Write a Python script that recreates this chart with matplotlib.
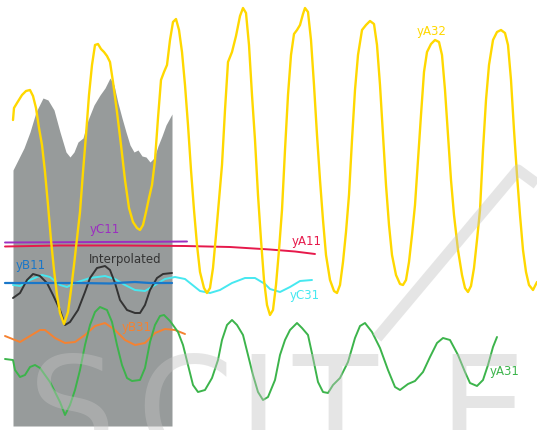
import numpy as np
import matplotlib
matplotlib.use("Agg")
import matplotlib.pyplot as plt

# everything is in picture coordinates (x right, y down), no axes shown

# gray band (interpolated window)
band_x = [13, 18, 24, 30, 36, 43, 48, 54, 60, 66, 70, 74, 78, 83, 88, 94, 100, 105, 110, 114, 118,
          122, 126, 130, 134, 138, 142, 146, 150, 154, 158, 162, 166, 172]
band_top = [170, 160, 148, 132, 112, 98, 100, 110, 132, 152, 157, 152, 142, 138, 120, 105, 95, 88, 78, 85, 103,
            118, 132, 145, 152, 150, 156, 157, 162, 158, 146, 136, 125, 114]
band_bottom = 426

yA32_x = [13, 14, 17, 22, 26, 30, 33, 36, 39, 42, 45, 48, 51, 54, 57, 60, 64, 68, 71, 74, 77, 80, 83, 86, 89,
          92, 95, 98, 101, 104, 107, 110, 113, 117, 121, 125, 129, 133, 137, 140, 143, 146, 149, 152, 155,
          158, 161, 164, 167, 170, 173, 176, 179, 182, 185, 188, 191, 194, 197, 200, 204, 207, 210, 213,
          216, 219, 222, 225, 228, 232, 236, 240, 243, 246, 249, 252, 255, 258, 261, 264, 267, 270, 273,
          276, 279, 282, 285, 288, 291, 294, 297, 300, 303, 305, 308, 311, 314, 317, 320, 323, 326, 330,
          334, 337, 340, 343, 346, 349, 352, 355, 358, 362, 366, 370, 374, 377, 380, 383, 386, 389, 392,
          396, 400, 403, 406, 409, 412, 415, 418, 421, 424, 427, 431, 435, 439, 442, 445, 448, 451, 454,
          458, 462, 465, 468, 471, 474, 477, 480, 483, 486, 489, 493, 497, 501, 505, 508, 511, 514, 517,
          520, 523, 526, 529, 533, 537]
yA32_y = [120, 108, 103, 95, 91, 90, 96, 108, 128, 145, 172, 205, 240, 270, 295, 313, 324, 312, 290, 265,
          238, 212, 172, 135, 95, 65, 45, 44, 49, 52, 56, 62, 82, 112, 145, 180, 208, 222, 228, 230, 225,
          212, 198, 185, 160, 118, 80, 72, 65, 40, 22, 19, 30, 52, 85, 125, 170, 210, 245, 272, 288, 293,
          288, 268, 235, 200, 165, 110, 62, 52, 36, 16, 8, 13, 45, 95, 140, 195, 240, 280, 305, 315, 310,
          285, 250, 210, 150, 95, 55, 34, 30, 25, 14, 8, 12, 40, 85, 135, 180, 220, 255, 280, 291, 293,
          285, 262, 232, 195, 140, 90, 55, 30, 25, 21, 24, 45, 85, 135, 185, 225, 255, 275, 284, 285, 280,
          262, 235, 205, 160, 115, 72, 52, 44, 40, 42, 55, 90, 135, 180, 215, 250, 275, 288, 292, 286, 268,
          240, 210, 150, 100, 65, 40, 32, 30, 33, 45, 80, 130, 175, 215, 250, 272, 285, 290, 282]

yC11_x = [5, 50, 100, 150, 187]
yC11_y = [242.5, 242.3, 242, 241.8, 241.5]

yA11_x = [5, 60, 120, 185, 230, 270, 295, 315]
yA11_y = [246.5, 245.5, 245.5, 246, 247, 249.5, 251.5, 254]

yB11_x = [5, 40, 80, 110, 125, 135, 150, 172]
yB11_y = [283, 283, 283, 283.5, 282.5, 282, 283, 283]

yC31_x = [13, 20, 30, 42, 50, 60, 67, 75, 90, 105, 115, 125, 135, 145, 155, 165, 175, 185, 200, 210,
          220, 232, 245, 255, 265, 270, 280, 290, 300, 312]
yC31_y = [285, 286, 280, 275, 277, 285, 287, 283, 278, 276, 279, 285, 290, 291, 285, 279, 277, 279, 291,
          293, 290, 283, 278, 278, 284, 289, 292, 287, 281, 280]

interp_x = [13, 20, 27, 33, 40, 47, 53, 60, 65, 70, 78, 85, 90, 97, 105, 110, 115, 120, 127, 135, 140,
            145, 150, 157, 163, 172]
interp_y = [298, 293, 280, 274, 276, 283, 295, 310, 325, 322, 310, 292, 278, 268, 266, 270, 283, 300, 310,
            313, 313, 305, 290, 278, 274, 273]

yB31_x = [5, 15, 20, 30, 40, 45, 55, 65, 75, 85, 95, 105, 115, 125, 135, 145, 155, 165, 175, 185]
yB31_y = [336, 340, 342, 336, 330, 330, 338, 343, 342, 335, 326, 323, 330, 340, 345, 343, 333, 329, 330, 334]

yA31_x = [5, 13, 15, 20, 25, 30, 35, 40, 45, 50, 55, 60, 65, 70, 75, 80, 85, 90, 95, 100, 107, 112, 117,
          122, 127, 132, 140, 145, 150, 155, 160, 164, 170, 178, 183, 188, 193, 198, 205, 212, 218, 222,
          227, 232, 237, 243, 248, 253, 258, 263, 268, 275, 280, 285, 290, 297, 302, 308, 313, 318, 323,
          328, 333, 340, 348, 355, 360, 365, 372, 380, 388, 395, 400, 408, 415, 423, 430, 437, 443, 450,
          458, 465, 470, 477, 483, 488, 493, 497]
yA31_y = [359, 360, 370, 377, 375, 367, 365, 368, 375, 382, 392, 402, 415, 405, 390, 370, 345, 325, 312,
          307, 310, 322, 345, 365, 378, 381, 380, 368, 342, 325, 316, 315, 321, 332, 345, 365, 385, 392,
          390, 378, 360, 340, 325, 320, 325, 335, 355, 375, 392, 400, 397, 380, 355, 340, 330, 323, 328,
          335, 358, 382, 392, 393, 385, 378, 362, 338, 326, 323, 332, 348, 370, 387, 390, 384, 381, 372,
          357, 343, 338, 340, 355, 372, 383, 386, 380, 365, 347, 337]

series = [
    # x, y, colour, width, label, label position
    (yA11_x, yA11_y, "#e6194b", 1.4, "yA11", (307, 242)),
    (yC11_x, yC11_y, "#9b2fc0", 1.4, "yC11", (105, 229)),
    (yC31_x, yC31_y, "#46e8f0", 1.4, "yC31", (305, 296)),
    (interp_x, interp_y, "#333333", 1.4, "Interpolated", (125, 259)),
    (yB11_x, yB11_y, "#1a77c9", 1.6, "yB11", (31, 266)),
    (yB31_x, yB31_y, "#f58231", 1.4, "yB31", (137, 327)),
    (yA31_x, yA31_y, "#3cb44b", 1.4, "yA31", (505, 372)),
    (yA32_x, yA32_y, "#ffd800", 1.7, "yA32", (432, 31)),
]

# watermark letters (centre x)
wm_letters = ["S", "C", "I", "T", "E"]
wm_centres = [72, 185, 258, 335, 482]

fig = plt.figure(figsize=(5.37, 4.30), dpi=100)
ax = fig.add_axes([0, 0, 1, 1])
ax.set_xlim(0, 537)
ax.set_ylim(430, 0)
ax.axis("off")

ax.fill_between(band_x, band_top, band_bottom, color="#979b9b", lw=0, zorder=1)

for x, y, col, lw, name, pos in series:
    ax.plot(x, y, color=col, lw=lw, zorder=3, solid_capstyle="round")
    ax.text(pos[0], pos[1], name, color=col, fontsize=8.5, ha="center", va="center", zorder=2)

# faint publisher watermark on top
for ch, cx in zip(wm_letters, wm_centres):
    ax.text(cx, 350, ch, fontsize=100, color="#c3c3c3", alpha=0.42,
            ha="center", va="top", zorder=5, clip_on=True)
ax.plot([377, 518, 537], [338, 170, 184], color="#c3c3c3", alpha=0.42, lw=8,
        solid_capstyle="butt", zorder=5)

fig.savefig("out.png", dpi=100)
